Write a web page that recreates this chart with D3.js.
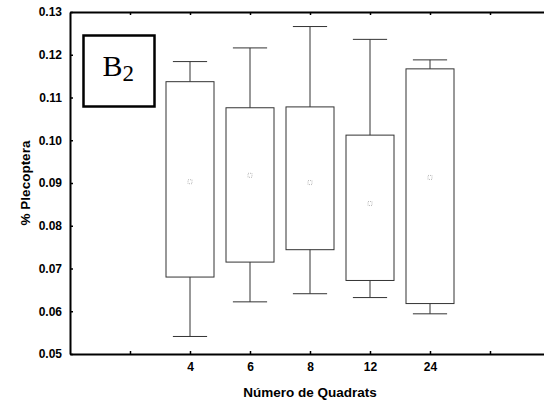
<!DOCTYPE html>
<html>
<head>
<meta charset="utf-8">
<script src="https://cdn.jsdelivr.net/npm/d3@7"></script>
<style>
	body { margin: 0; background: #fff; }
	text { font-family: "Liberation Sans", Arial, sans-serif; }
</style>
</head>
<body>
<div id="chart"></div>
<script>
// box plot values
const categories = ['4', '6', '8', '12', '24'];
const whiskerHigh = [0.1184, 0.1216, 0.1266, 0.1236, 0.1188];
const boxHigh = [0.1137, 0.1076, 0.1078, 0.1012, 0.1167];
const means = [0.0903, 0.0918, 0.0901, 0.0852, 0.0913];
const boxLow = [0.0680, 0.0715, 0.0744, 0.0672, 0.0618];
const whiskerLow = [0.0541, 0.0622, 0.0641, 0.0632, 0.0594];
const yTicks = [0.05, 0.06, 0.07, 0.08, 0.09, 0.10, 0.11, 0.12, 0.13];
const xTitle = 'Número de Quadrats';
const yTitle = '% Plecoptera';

const width = 544, height = 403;
const margin = {t: 12, r: -6, b: 49, l: 70};
const w = width - margin.l - margin.r;
const h = height - margin.t - margin.b;

const data = categories.map((c, i) => ({
	cat: c,
	wHi: whiskerHigh[i],
	bHi: boxHigh[i],
	mean: means[i],
	bLo: boxLow[i],
	wLo: whiskerLow[i]
}));

// empty slots left and right of the categories
const slots = ['lo'].concat(categories, ['hi']);
const scaleX = d3.scalePoint().domain(slots).range([0, w]).padding(1);
const scaleY = d3.scaleLinear().domain([0.05, 0.13]).range([h, 0]);
const step = scaleX.step();
const boxW = step * 0.8;
const capW = step * 0.57;

const svg = d3.select('#chart').append('svg')
	.attr('width', width)
	.attr('height', height);

const plot = svg.append('g')
	.attr('transform', `translate(${margin.l},${margin.t})`);

// axes, ticks pointing inward
const blank = d => (d === 'lo' || d === 'hi') ? '' : d;
const axisX = d3.axisBottom(scaleX).tickSizeInner(-3).tickSizeOuter(0).tickPadding(8).tickFormat(blank);
const axisXTop = d3.axisTop(scaleX).tickSizeInner(-3).tickSizeOuter(0).tickFormat('');
const axisY = d3.axisLeft(scaleY).tickValues(yTicks).tickSizeInner(-3).tickSizeOuter(0).tickPadding(8).tickFormat(d3.format('.2f'));

function styleAxis(g){
	g.select('.domain').attr('stroke', '#000').attr('stroke-width', 2);
	g.selectAll('.tick line').attr('stroke', '#000').attr('stroke-width', 1.5);
	g.selectAll('.tick text')
		.attr('fill', '#000')
		.style('font-size', '12px')
		.style('font-weight', 'bold');
}

plot.append('g').attr('class', 'axis-x')
	.attr('transform', `translate(0,${h})`)
	.call(axisX).call(styleAxis);
plot.append('g').attr('class', 'axis-x-top')
	.call(axisXTop).call(styleAxis);
plot.append('g').attr('class', 'axis-y')
	.call(axisY).call(styleAxis);

// boxes
const boxes = plot.selectAll('.box')
	.data(data)
	.enter().append('g')
	.attr('class', 'box')
	.attr('transform', d => `translate(${scaleX(d.cat)},0)`);

boxes.append('line')
	.attr('x1', 0).attr('x2', 0)
	.attr('y1', d => scaleY(d.wHi)).attr('y2', d => scaleY(d.bHi))
	.attr('stroke', '#333');
boxes.append('line')
	.attr('x1', 0).attr('x2', 0)
	.attr('y1', d => scaleY(d.bLo)).attr('y2', d => scaleY(d.wLo))
	.attr('stroke', '#333');
boxes.append('line')
	.attr('x1', -capW / 2).attr('x2', capW / 2)
	.attr('y1', d => scaleY(d.wHi)).attr('y2', d => scaleY(d.wHi))
	.attr('stroke', '#333');
boxes.append('line')
	.attr('x1', -capW / 2).attr('x2', capW / 2)
	.attr('y1', d => scaleY(d.wLo)).attr('y2', d => scaleY(d.wLo))
	.attr('stroke', '#333');
boxes.append('rect')
	.attr('x', -boxW / 2)
	.attr('width', boxW)
	.attr('y', d => scaleY(d.bHi))
	.attr('height', d => scaleY(d.bLo) - scaleY(d.bHi))
	.attr('fill', 'none')
	.attr('stroke', '#333');
// tiny mean marker
boxes.append('rect')
	.attr('x', -2)
	.attr('width', 4)
	.attr('y', d => scaleY(d.mean) - 2)
	.attr('height', 4)
	.attr('fill', 'none')
	.attr('stroke', '#bbb')
	.attr('stroke-dasharray', '1,1');

// panel label
const label = plot.append('g').attr('transform', 'translate(13.5,23.5)');
label.append('rect')
	.attr('width', 71).attr('height', 71)
	.attr('fill', '#fff')
	.attr('stroke', '#000')
	.attr('stroke-width', 2.5);
const lt = label.append('text')
	.attr('x', 19).attr('y', 40)
	.style('font-family', '"Liberation Serif", "Times New Roman", serif')
	.style('font-size', '30px')
	.attr('fill', '#000');
lt.append('tspan').text('B');
lt.append('tspan').attr('dy', 5).style('font-size', '23px').text('2');

// axis titles
svg.append('text')
	.attr('x', margin.l + scaleX('8'))
	.attr('y', 397)
	.attr('text-anchor', 'middle')
	.style('font-size', '13.5px')
	.style('font-weight', 'bold')
	.text(xTitle);

svg.append('text')
	.attr('transform', `translate(30,${margin.t + h / 2}) rotate(-90)`)
	.attr('text-anchor', 'middle')
	.style('font-size', '13.5px')
	.style('font-weight', 'bold')
	.text(yTitle);
</script>
</body>
</html>
